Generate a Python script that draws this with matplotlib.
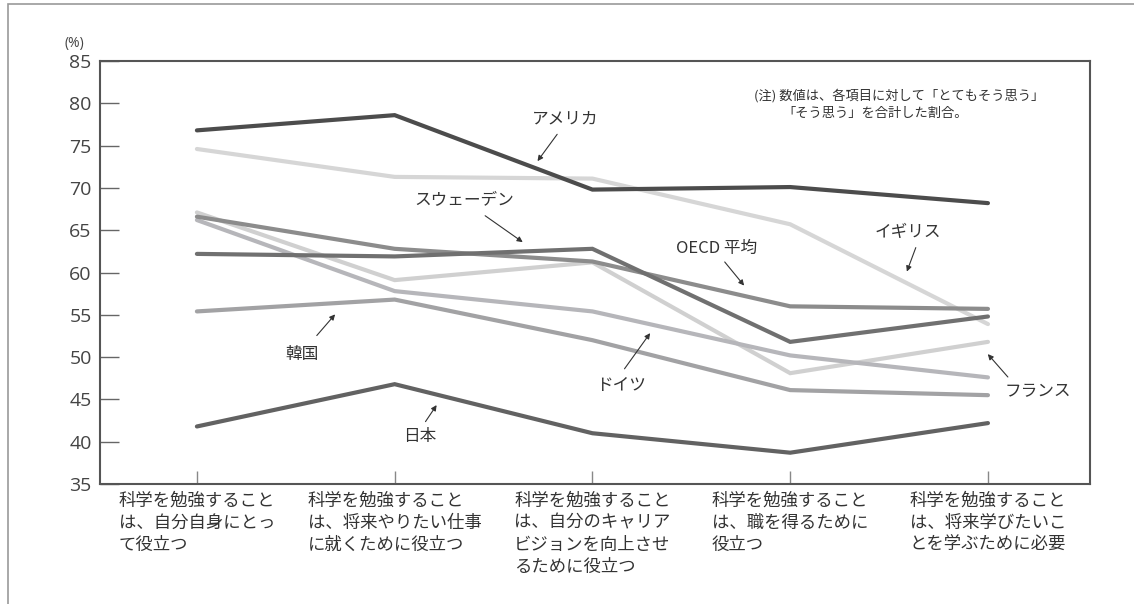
import matplotlib
matplotlib.use('Agg')
import matplotlib.pyplot as plt
import numpy as np

plt.rcParams['font.family'] = ['Noto Sans CJK JP', 'DejaVu Sans']

categories = ['科学を勉強すること\nは、自分自身にとっ\nて役立つ',
              '科学を勉強すること\nは、将来やりたい仕事\nに就くために役立つ',
              '科学を勉強すること\nは、自分のキャリア\nビジョンを向上させ\nるために役立つ',
              '科学を勉強すること\nは、職を得るために\n役立つ',
              '科学を勉強すること\nは、将来学びたいこ\nとを学ぶために必要']

america = [76.8, 78.6, 69.8, 70.1, 68.2]
uk = [74.6, 71.3, 71.1, 65.7, 53.9]
oecd = [66.6, 62.8, 61.3, 56.0, 55.7]
sweden = [62.2, 61.9, 62.8, 51.8, 54.8]
france = [67.1, 59.1, 61.2, 48.1, 51.8]
germany = [66.2, 57.8, 55.4, 50.2, 47.6]
korea = [55.4, 56.8, 52.0, 46.1, 45.5]
japan = [41.8, 46.8, 41.0, 38.7, 42.2]

series = [
    (uk, '#d6d6d6'),
    (france, '#d0d0d0'),
    (germany, '#b6b6ba'),
    (korea, '#a2a2a4'),
    (oecd, '#8c8c8c'),
    (sweden, '#707070'),
    (japan, '#626262'),
    (america, '#4c4c4c'),
]

fig = plt.figure(figsize=(11.34, 6.04), dpi=100)
ax = fig.add_axes([100/1134, 1-484/604, 990/1134, 423/604])

x = np.arange(len(categories))
for vals, col in series:
    ax.plot(x, vals, color=col, lw=3.0, solid_capstyle='round', solid_joinstyle='miter')

ax.set_xlim(-0.49, 4.516)
ax.set_ylim(35, 85)
ax.set_yticks(range(35, 86, 5))
ax.set_xticks(x)
ax.set_xticklabels([])
ax.tick_params(axis='y', direction='in', length=14, width=1, color='#666',
               labelsize=14, labelcolor='#444', pad=6)
ax.tick_params(axis='x', direction='in', length=9.5, width=1, color='#888')
for lab in ax.get_yticklabels():
    lab.set_family(['Open Sans', 'DejaVu Sans'])
for s in ax.spines.values():
    s.set_color('#555')
    s.set_linewidth(1.5)

for i, c in enumerate(categories):
    ax.text(i, 34.1, c, ha='center', va='top', multialignment='left',
            fontsize=12.5, color='#333', linespacing=1.3)

ax.text(-0.62, 86.2, '(%)', ha='center', va='bottom', fontsize=10, color='#444',
        family=['Open Sans', 'DejaVu Sans'])

# 注記
ax.text(2.817, 80.86, '(注) 数値は、各項目に対して「とてもそう思う」', fontsize=9.5,
        color='#333', va='center')
ax.text(2.958, 78.85, '「そう思う」を合計した割合。', fontsize=9.5, color='#333', va='center')

# ラベルと矢印
arrow = dict(arrowstyle='-|>', color='#333', lw=0.8, mutation_scale=8)
labels = [
    ('アメリカ', (1.86, 78.1), (1.714, 72.9), (1.83, 76.6)),
    ('スウェーデン', (1.35, 68.45), (1.659, 63.4), (1.446, 66.9)),
    ('OECD 平均', (2.63, 62.9), (2.776, 58.2), (2.66, 61.5)),
    ('イギリス', (3.595, 64.7), (3.585, 59.8), (3.64, 63.25)),
    ('フランス', (4.253, 45.9), (3.99, 50.6), (4.11, 47.4)),
    ('ドイツ', (2.144, 46.7), (2.30, 53.1), (2.154, 48.35)),
    ('韓国', (0.531, 50.25), (0.708, 55.3), (0.597, 52.3)),
    ('日本', (1.128, 40.6), (1.22, 44.6), (1.148, 42.1)),
]
for txt, tpos, tip, start in labels:
    ax.text(tpos[0], tpos[1], txt, ha='center', va='center', fontsize=12, color='#333')
    ax.annotate('', xy=tip, xytext=start, arrowprops=arrow)

# 外枠
fig.patches.append(plt.Rectangle((8/1134, -0.1), 1.2, 1.1 - 4/604,
                                 transform=fig.transFigure, fill=False,
                                 edgecolor='#999', lw=1.2))

fig.savefig('out.png', dpi=100)
